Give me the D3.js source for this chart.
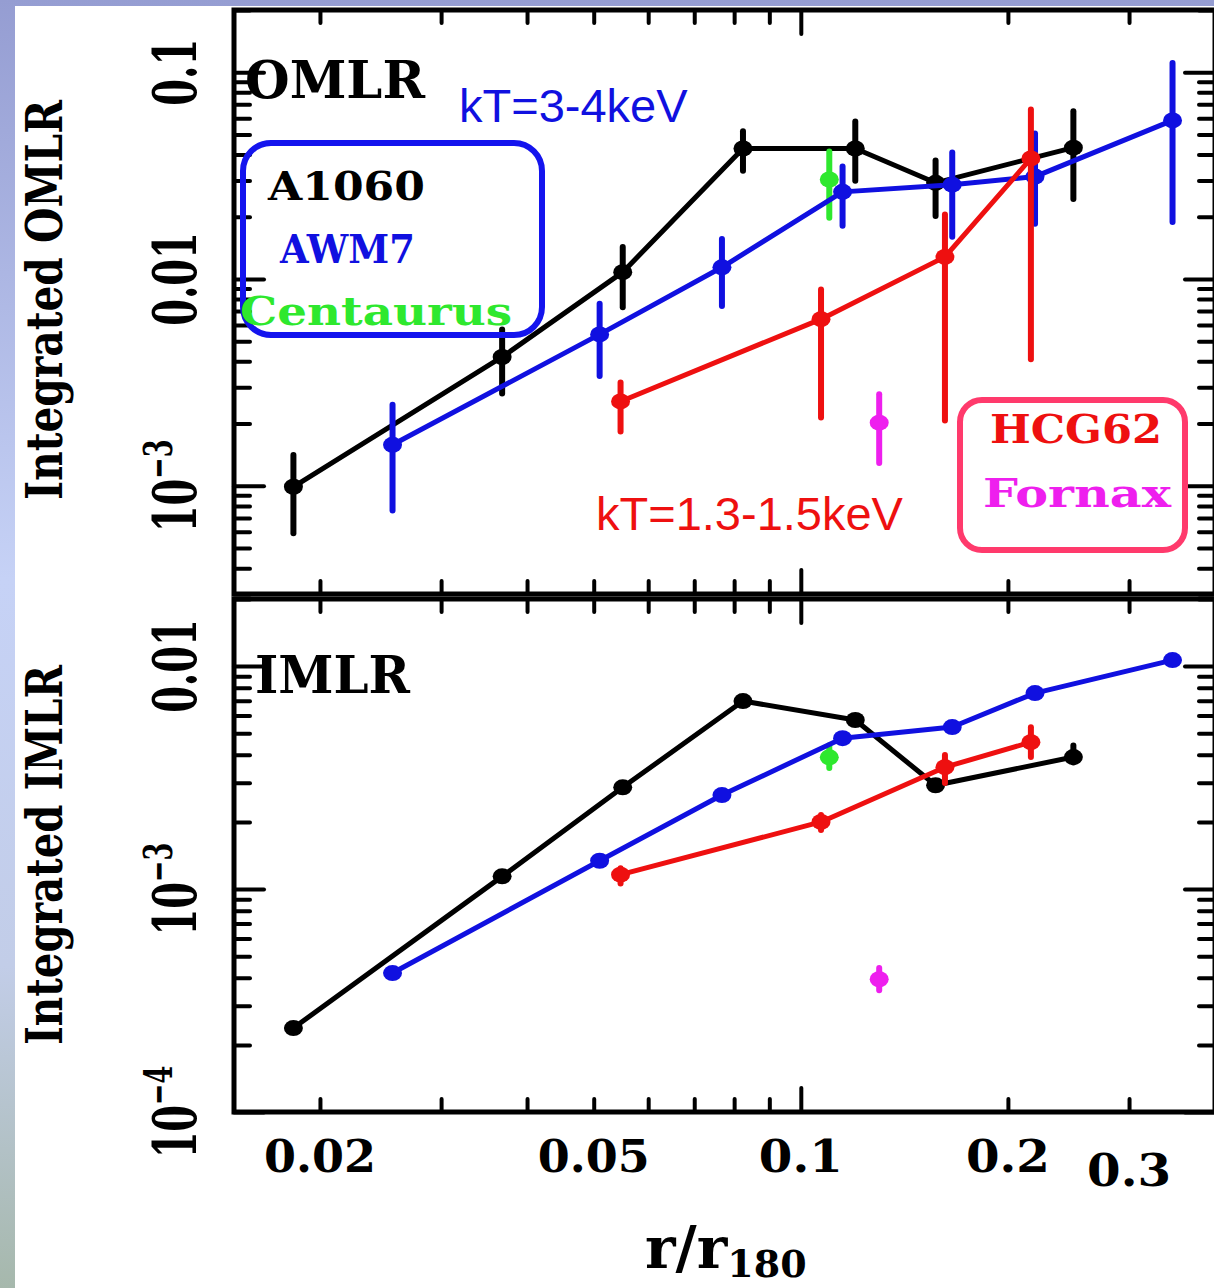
<!DOCTYPE html>
<html lang="en">
  <head>
    <meta charset="utf-8">
    <title>Integrated OMLR / IMLR</title>
    <script src="https://d3js.org/d3.v7.min.js"></script>
    <style>
      body { margin: 0; }
      svg { display: block; }
      .serif { font-family: "DejaVu Serif", serif; font-weight: bold; }
      .sans { font-family: "Liberation Sans", Arial, sans-serif; }
    </style>
  </head>
  <body>
    <script>
      // r/r180 of each annulus
      var a1060R     = [0.0183, 0.0368, 0.0551, 0.0824, 0.120, 0.157, 0.249];
      var awm7R      = [0.0255, 0.0510, 0.0768, 0.115, 0.166, 0.219, 0.347];
      var hcg62R     = [0.0547, 0.107, 0.162, 0.216];
      var centaurusR = [0.110];
      var fornaxR    = [0.130];

      // integrated OMLR (value, lower, upper)
      var a1060Omlr   = [9.9e-4, 4.2e-3, 0.0108, 0.0428, 0.0428, 0.0292, 0.0432];
      var a1060OmlrLo = [5.9e-4, 2.8e-3, 7.3e-3, 0.0334, 0.0299, 0.0202, 0.0244];
      var a1060OmlrHi = [1.41e-3, 5.7e-3, 0.0143, 0.0518, 0.0578, 0.0374, 0.0647];
      var awm7Omlr    = [1.58e-3, 5.4e-3, 0.0114, 0.0264, 0.0286, 0.0313, 0.0585];
      var awm7OmlrLo  = [7.6e-4, 3.4e-3, 7.4e-3, 0.0181, 0.0160, 0.0185, 0.0189];
      var awm7OmlrHi  = [2.47e-3, 7.6e-3, 0.0156, 0.0350, 0.0409, 0.0506, 0.111];
      var hcg62Omlr   = [2.56e-3, 6.4e-3, 0.0128, 0.0383];
      var hcg62OmlrLo = [1.83e-3, 2.14e-3, 2.07e-3, 4.1e-3];
      var hcg62OmlrHi = [3.16e-3, 8.9e-3, 0.0205, 0.0661];
      var centaurusOmlr = [0.0303], centaurusOmlrLo = [0.0198], centaurusOmlrHi = [0.0414];
      var fornaxOmlr = [2.02e-3], fornaxOmlrLo = [1.29e-3], fornaxOmlrHi = [2.77e-3];

      // integrated IMLR (value, lower, upper)
      var a1060Imlr   = [2.38e-4, 1.14e-3, 2.86e-3, 6.97e-3, 5.73e-3, 2.92e-3, 3.91e-3];
      var a1060ImlrLo = [2.33e-4, 1.11e-3, 2.80e-3, 6.85e-3, 5.60e-3, 2.86e-3, 3.70e-3];
      var a1060ImlrHi = [2.43e-4, 1.17e-3, 2.92e-3, 7.10e-3, 5.90e-3, 2.98e-3, 4.40e-3];
      var awm7Imlr    = [4.2e-4, 1.34e-3, 2.64e-3, 4.75e-3, 5.33e-3, 7.57e-3, 0.01064];
      var awm7ImlrLo  = [4.1e-4, 1.31e-3, 2.58e-3, 4.65e-3, 5.20e-3, 7.40e-3, 0.0104];
      var awm7ImlrHi  = [4.3e-4, 1.37e-3, 2.70e-3, 4.85e-3, 5.46e-3, 7.74e-3, 0.0109];
      var hcg62Imlr   = [1.16e-3, 2.0e-3, 3.52e-3, 4.56e-3];
      var hcg62ImlrLo = [1.06e-3, 1.84e-3, 2.99e-3, 3.91e-3];
      var hcg62ImlrHi = [1.24e-3, 2.15e-3, 3.99e-3, 5.32e-3];
      var centaurusImlr = [3.9e-3], centaurusImlrLo = [3.49e-3], centaurusImlrHi = [4.42e-3];
      var fornaxImlr = [3.94e-4], fornaxImlrLo = [3.52e-4], fornaxImlrHi = [4.42e-4];

      // tick labels
      var xTickLabels = [0.02, 0.05, 0.1, 0.2, 0.3];
      var omlrTickLabels = [0.1, 0.01, 0.001];
      var imlrTickLabels = [0.01, 0.001, 0.0001];

      var w = 1214, h = 1288;
      var left = 234, right = 1215;
      var topPanel = {top: 10, bottom: 594};
      var botPanel = {top: 599, bottom: 1112};

      var colors = {a1060: "#000000", awm7: "#1010e0", hcg62: "#ee1010",
                    centaurus: "#2ee82e", fornax: "#ee1fee"};

      var xScale = d3.scaleLog().domain([0.015, 0.4]).range([left, right]);
      var yTop = d3.scaleLog().domain([3e-4, 0.2]).range([topPanel.bottom, topPanel.top]);
      var yBot = d3.scaleLog().domain([1e-4, 0.02]).range([botPanel.bottom, botPanel.top]);

      var svg = d3.select("body").append("svg")
          .attr("width", w)
          .attr("height", h);

      // slide background
      var grad = svg.append("defs").append("linearGradient")
          .attr("id", "bg").attr("x1", 0).attr("y1", 0).attr("x2", 0).attr("y2", 1);
      grad.append("stop").attr("offset", "0%").attr("stop-color", "#959dd2");
      grad.append("stop").attr("offset", "45%").attr("stop-color", "#c6d2f6");
      grad.append("stop").attr("offset", "75%").attr("stop-color", "#c2cde8");
      grad.append("stop").attr("offset", "100%").attr("stop-color", "#a6b8ac");
      svg.append("rect").attr("width", w).attr("height", h).attr("fill", "url(#bg)");
      svg.append("rect").attr("x", 15).attr("y", 6).attr("width", w - 15).attr("height", h - 6)
          .attr("fill", "white");

      function isDecade(v) {
        var l = Math.log10(v);
        return Math.abs(l - Math.round(l)) < 1e-6;
      }

      function drawFrame(panel, y) {
        var g = svg.append("g");
        var xt = xScale.ticks();
        var xMinor = xt.filter(d => !isDecade(d));
        var xMajor = xt.filter(d => isDecade(d));
        var yt = y.ticks();
        var yMinor = yt.filter(d => !isDecade(d));
        var yMajor = yt.filter(d => isDecade(d));

        var axes = [
          [d3.axisBottom(xScale).tickValues(xMinor).tickSize(13), `translate(0,${panel.top})`],
          [d3.axisBottom(xScale).tickValues(xMajor).tickSize(24), `translate(0,${panel.top})`],
          [d3.axisTop(xScale).tickValues(xMinor).tickSize(13), `translate(0,${panel.bottom})`],
          [d3.axisTop(xScale).tickValues(xMajor).tickSize(24), `translate(0,${panel.bottom})`],
          [d3.axisRight(y).tickValues(yMinor).tickSize(16), `translate(${left},0)`],
          [d3.axisRight(y).tickValues(yMajor).tickSize(30), `translate(${left},0)`],
          [d3.axisLeft(y).tickValues(yMinor).tickSize(16), `translate(${right},0)`],
          [d3.axisLeft(y).tickValues(yMajor).tickSize(30), `translate(${right},0)`]
        ];
        axes.forEach(function (a) {
          g.append("g")
              .attr("transform", a[1])
              .call(a[0].tickFormat(""))
              .call(s => s.select(".domain").remove())
              .call(s => s.selectAll(".tick line")
                  .attr("stroke", "black").attr("stroke-width", 4).attr("stroke-linecap", "round"));
        });

        g.append("rect")
            .attr("x", left).attr("y", panel.top)
            .attr("width", right - left).attr("height", panel.bottom - panel.top)
            .attr("fill", "none").attr("stroke", "black").attr("stroke-width", 5);
      }

      function drawSeries(y, r, v, lo, hi, color, withLine) {
        var pts = r.map((d, i) => ({r: d, v: v[i], lo: lo[i], hi: hi[i]}));
        var g = svg.append("g");
        if (withLine) {
          g.append("path")
              .datum(pts)
              .attr("d", d3.line().x(d => xScale(d.r)).y(d => y(d.v)))
              .attr("fill", "none")
              .attr("stroke", color)
              .attr("stroke-width", 5)
              .attr("stroke-linejoin", "round");
        }
        g.selectAll("line.err")
            .data(pts)
            .enter().append("line")
            .attr("class", "err")
            .attr("x1", d => xScale(d.r)).attr("x2", d => xScale(d.r))
            .attr("y1", d => y(d.lo)).attr("y2", d => y(d.hi))
            .attr("stroke", color)
            .attr("stroke-width", 6)
            .attr("stroke-linecap", "round");
        g.selectAll("ellipse")
            .data(pts)
            .enter().append("ellipse")
            .attr("cx", d => xScale(d.r))
            .attr("cy", d => y(d.v))
            .attr("rx", 9.5).attr("ry", 8)
            .attr("fill", color);
      }

      drawFrame(topPanel, yTop);
      drawFrame(botPanel, yBot);

      // OMLR panel
      drawSeries(yTop, a1060R, a1060Omlr, a1060OmlrLo, a1060OmlrHi, colors.a1060, true);
      drawSeries(yTop, centaurusR, centaurusOmlr, centaurusOmlrLo, centaurusOmlrHi, colors.centaurus, false);
      drawSeries(yTop, awm7R, awm7Omlr, awm7OmlrLo, awm7OmlrHi, colors.awm7, true);
      drawSeries(yTop, hcg62R, hcg62Omlr, hcg62OmlrLo, hcg62OmlrHi, colors.hcg62, true);
      drawSeries(yTop, fornaxR, fornaxOmlr, fornaxOmlrLo, fornaxOmlrHi, colors.fornax, false);

      // IMLR panel
      drawSeries(yBot, a1060R, a1060Imlr, a1060ImlrLo, a1060ImlrHi, colors.a1060, true);
      drawSeries(yBot, centaurusR, centaurusImlr, centaurusImlrLo, centaurusImlrHi, colors.centaurus, false);
      drawSeries(yBot, awm7R, awm7Imlr, awm7ImlrLo, awm7ImlrHi, colors.awm7, true);
      drawSeries(yBot, hcg62R, hcg62Imlr, hcg62ImlrLo, hcg62ImlrHi, colors.hcg62, true);
      drawSeries(yBot, fornaxR, fornaxImlr, fornaxImlrLo, fornaxImlrHi, colors.fornax, false);

      // x tick labels
      svg.append("g").selectAll("text")
          .data(xTickLabels)
          .enter().append("text")
          .attr("class", "serif")
          .attr("x", d => xScale(d))
          .attr("y", d => d === 0.3 ? 1186 : 1172)
          .attr("text-anchor", "middle")
          .attr("font-size", 44)
          .attr("textLength", d => String(d).length * 28)
          .attr("lengthAdjust", "spacingAndGlyphs")
          .text(d => String(d));

      // y tick labels (rotated)
      function yLabels(y, values) {
        var t = svg.append("g").selectAll("text")
            .data(values)
            .enter().append("text")
            .attr("class", "serif")
            .attr("text-anchor", "middle")
            .attr("font-size", 60)
            .attr("transform", d => `translate(196,${y(d)}) rotate(-90) scale(0.64,1)`);
        t.each(function (d) {
          var s = d3.select(this);
          if (d >= 0.01) {
            s.text(String(d));
          } else {
            s.append("tspan").text("10");
            s.append("tspan").attr("font-size", 40).attr("dy", -24)
                .text("\u2212" + Math.round(-Math.log10(d)));
          }
        });
      }
      yLabels(yTop, omlrTickLabels);
      yLabels(yBot, imlrTickLabels);

      // axis titles
      svg.append("text").attr("class", "serif")
          .attr("transform", "translate(62,300) rotate(-90)")
          .attr("text-anchor", "middle").attr("font-size", 50)
          .attr("textLength", 400).attr("lengthAdjust", "spacingAndGlyphs")
          .text("Integrated OMLR");
      svg.append("text").attr("class", "serif")
          .attr("transform", "translate(62,855) rotate(-90)")
          .attr("text-anchor", "middle").attr("font-size", 50)
          .attr("textLength", 380).attr("lengthAdjust", "spacingAndGlyphs")
          .text("Integrated IMLR");

      var xt = svg.append("text").attr("class", "serif")
          .attr("x", 645).attr("y", 1268).attr("font-size", 58);
      xt.append("tspan").text("r/r");
      xt.append("tspan").attr("font-size", 38).attr("dy", 9).text("180");

      // panel names
      svg.append("text").attr("class", "serif")
          .attr("x", 245).attr("y", 98).attr("font-size", 52)
          .attr("textLength", 180).attr("lengthAdjust", "spacingAndGlyphs")
          .text("OMLR");
      svg.append("text").attr("class", "serif")
          .attr("x", 255).attr("y", 693).attr("font-size", 52)
          .attr("textLength", 155).attr("lengthAdjust", "spacingAndGlyphs")
          .text("IMLR");

      // temperature notes
      svg.append("text").attr("class", "sans")
          .attr("x", 459).attr("y", 122).attr("font-size", 47)
          .attr("fill", colors.awm7).text("kT=3-4keV");
      svg.append("text").attr("class", "sans")
          .attr("x", 596).attr("y", 530).attr("font-size", 47)
          .attr("fill", colors.hcg62).text("kT=1.3-1.5keV");

      // legend boxes
      svg.append("rect")
          .attr("x", 243).attr("y", 143).attr("width", 299).attr("height", 192)
          .attr("rx", 28).attr("fill", "none")
          .attr("stroke", "#1414ee").attr("stroke-width", 6);
      svg.append("rect")
          .attr("x", 960).attr("y", 400).attr("width", 225).attr("height", 150)
          .attr("rx", 22).attr("fill", "none")
          .attr("stroke", "#ff3a6c").attr("stroke-width", 6);

      var legendItems = [
        ["A1060", colors.a1060, 268, 200, 157],
        ["AWM7", colors.awm7, 280, 263, 135],
        ["Centaurus", colors.centaurus, 240, 325, 272],
        ["HCG62", colors.hcg62, 990, 443, 172],
        ["Fornax", colors.fornax, 983, 507, 188]
      ];
      svg.append("g").selectAll("text")
          .data(legendItems)
          .enter().append("text")
          .attr("class", "serif")
          .attr("x", d => d[2]).attr("y", d => d[3])
          .attr("font-size", 40)
          .attr("fill", d => d[1])
          .attr("textLength", d => d[4])
          .attr("lengthAdjust", "spacingAndGlyphs")
          .text(d => d[0]);
    </script>
  </body>
</html>
